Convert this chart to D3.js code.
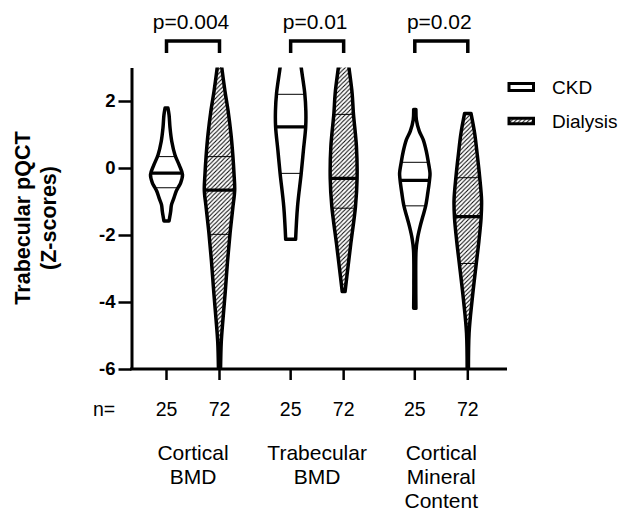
<!DOCTYPE html>
<html><head><meta charset="utf-8">
<script src="https://cdn.jsdelivr.net/npm/d3@7"></script>
<style>body{margin:0;background:#fff;} svg{display:block;font-family:"Liberation Sans",Arial,sans-serif;}</style>
</head><body><svg id="c" width="630" height="516"></svg>
<script>
// ---- data ----
const categories = ["Cortical BMD", "Trabecular BMD", "Cortical Mineral Content"];
const categoryLines = [["Cortical", "BMD"], ["Trabecular", "BMD"], ["Cortical", "Mineral", "Content"]];
const groups = ["CKD", "Dialysis"];
const nCounts = [25, 72];
const pValues = ["p=0.004", "p=0.01", "p=0.02"];
const yTicks = [-6, -4, -2, 0, 2];
const yTitle = ["Trabecular pQCT", "(Z-scores)"];

// density profiles [z-score, relative density], one per category
const densityCKD = [
  [[1.79,0.09],[1.58,0.16],[1.2,0.22],[0.79,0.33],[0.39,0.53],[0.09,0.79],[-0.2,1.0],[-0.45,0.88],[-0.59,0.72],[-0.7,0.6],[-0.9,0.46],[-1.1,0.31],[-1.3,0.26],[-1.58,0.16]],
  [[3.3,0.59],[3.0,0.66],[2.24,0.88],[1.7,0.95],[1.23,0.94],[0.54,0.8],[-0.16,0.66],[-1.15,0.43],[-2.13,0.31]],
  [[1.75,0.07],[1.43,0.1],[1.1,0.28],[0.84,0.53],[0.5,0.72],[0.19,0.84],[-0.16,0.95],[-0.36,0.92],[-0.75,0.81],[-1.13,0.68],[-1.45,0.5],[-1.75,0.33],[-2.1,0.17],[-2.45,0.08],[-3.5,0.06],[-4.19,0.07]]
];
const densityDialysis = [
  [[3.2,0.09],[2.93,0.16],[2.3,0.34],[1.73,0.53],[1.0,0.72],[0.34,0.84],[-0.2,0.91],[-0.66,0.95],[-1.2,0.83],[-1.95,0.66],[-2.8,0.5],[-3.7,0.36],[-4.5,0.22],[-5.2,0.11],[-6.2,0.06]],
  [[3.3,0.25],[3.0,0.33],[2.23,0.53],[1.63,0.61],[0.64,0.8],[-0.31,0.84],[-1.15,0.74],[-2.25,0.45],[-3.24,0.2],[-3.69,0.09]],
  [[1.63,0.2],[1.03,0.43],[0.4,0.59],[-0.26,0.74],[-0.96,0.86],[-1.5,0.83],[-2.2,0.69],[-2.85,0.53],[-3.94,0.27],[-4.93,0.08],[-6.2,0.04]]
];
// [Q1, median, Q3]
const quartilesCKD = [[-0.59,-0.15,0.34],[-0.16,1.23,2.2],[-1.13,-0.37,0.17]];
const quartilesDialysis = [[-1.98,-0.66,0.34],[-1.2,-0.31,1.6],[-2.85,-1.45,-0.29]];

// ---- layout ----
const svg = d3.select("#c");
const y = d3.scaleLinear().domain([-6, 3]).range([369, 67.5]);
const xg = d3.scalePoint().domain(categories).range([193, 441.3]);
const xi = d3.scalePoint().domain(groups).range([-26.5, 26.5]);
const w = d3.scaleLinear().domain([0, 1]).range([0, 16]);
const axisX0 = 131.5, axisX1 = 507;

const defs = svg.append("defs");
const hs = 4.3;
defs.append("pattern").attr("id", "hatch").attr("patternUnits", "userSpaceOnUse")
  .attr("width", hs).attr("height", hs)
  .call(p => {
    p.append("rect").attr("width", hs).attr("height", hs).attr("fill", "#fff");
    p.append("path").attr("d", `M0,${hs} L${hs},0 M${-hs/2},${hs/2} L${hs/2},${-hs/2} M${hs/2},${1.5*hs} L${1.5*hs},${hs/2}`)
      .attr("stroke", "#000").attr("stroke-width", 1);
  });
defs.append("clipPath").attr("id", "plotclip").append("rect")
  .attr("x", axisX0).attr("y", y(3)).attr("width", 630 - axisX0).attr("height", y(-6) - y(3));

function halfAt(prof, v) {
  for (let i = 0; i < prof.length - 1; i++) {
    const a = prof[i], b = prof[i + 1];
    if (v <= a[0] && v >= b[0]) {
      const t = (a[0] - v) / (a[0] - b[0]);
      return w(a[1] + t * (b[1] - a[1]));
    }
  }
  return 0;
}

const vg = svg.append("g").attr("clip-path", "url(#plotclip)");
const series = [
  { g: "CKD", dens: densityCKD, q: quartilesCKD, fill: "#fff" },
  { g: "Dialysis", dens: densityDialysis, q: quartilesDialysis, fill: "url(#hatch)" }
];
series.forEach(s => {
  categories.forEach((c, ci) => {
    const cx = xg(c) + xi(s.g);
    const prof = s.dens[ci];
    const area = d3.area().curve(d3.curveCatmullRom.alpha(0.5))
      .y(d => y(d[0])).x0(d => cx - w(d[1])).x1(d => cx + w(d[1]));
    vg.append("path").attr("d", area(prof)).attr("fill", s.fill)
      .attr("stroke", "#000").attr("stroke-width", 3.5).attr("stroke-linejoin", "round");
    s.q[ci].forEach((qv, qi) => {
      const hw = halfAt(prof, qv);
      vg.append("line").attr("x1", cx - hw).attr("x2", cx + hw).attr("y1", y(qv)).attr("y2", y(qv))
        .attr("stroke", "#000").attr("stroke-width", qi === 1 ? 3.2 : 1);
    });
  });
});

// y axis
const ya = svg.append("g").attr("transform", `translate(${axisX0},0)`)
  .call(d3.axisLeft(y).tickValues(yTicks).tickSize(13).tickSizeOuter(0).tickPadding(3).tickFormat(d => String(d)));
ya.select(".domain").attr("stroke", "#000").attr("stroke-width", 3);
ya.selectAll(".tick line").attr("stroke", "#000").attr("stroke-width", 2.5);
ya.selectAll(".tick text").attr("font-size", 18.5).attr("font-weight", "bold").attr("fill", "#000")
  .attr("font-family", '"Liberation Sans",Arial,sans-serif');

// x axis
svg.append("line").attr("x1", axisX0 - 1.5).attr("x2", axisX1).attr("y1", y(-6)).attr("y2", y(-6))
  .attr("stroke", "#000").attr("stroke-width", 3);
categories.forEach((c, ci) => {
  groups.forEach((g, gi) => {
    const cx = xg(c) + xi(g);
    svg.append("line").attr("x1", cx).attr("x2", cx).attr("y1", y(-6)).attr("y2", y(-6) + 11)
      .attr("stroke", "#000").attr("stroke-width", 2.5);
    svg.append("text").attr("x", cx).attr("y", 416).attr("text-anchor", "middle")
      .attr("font-size", 19.5).text(nCounts[gi]);
  });
  const t = svg.append("text").attr("text-anchor", "middle").attr("font-size", 21);
  categoryLines[ci].forEach((ln, li) => {
    t.append("tspan").attr("x", xg(c)).attr("y", 459.5 + li * 24.3).text(ln);
  });
  // bracket
  const xa = xg(c) + xi(groups[0]), xb = xg(c) + xi(groups[1]);
  svg.append("path").attr("d", `M${xa},53 L${xa},41 L${xb},41 L${xb},53`)
    .attr("fill", "none").attr("stroke", "#000").attr("stroke-width", 3.5);
  svg.append("text").attr("x", xg(c) - 2).attr("y", 29).attr("text-anchor", "middle")
    .attr("font-size", 21).text(pValues[ci]);
});
svg.append("text").attr("x", 93).attr("y", 416).attr("font-size", 19.5).text("n=");

// y title
const yt = svg.append("text").attr("transform", `translate(0,218) rotate(-90)`)
  .attr("text-anchor", "middle").attr("font-size", 21.5).attr("font-weight", "bold");
yTitle.forEach((ln, li) => yt.append("tspan").attr("x", 0).attr("y", 30 + li * 26).text(ln));

// legend
const leg = [{ g: "CKD", fill: "#fff", yc: 87, h: 7 }, { g: "Dialysis", fill: "url(#hatch)", yc: 121, h: 5.5 }];
leg.forEach(l => {
  svg.append("rect").attr("x", 509).attr("y", l.yc - l.h / 2).attr("width", 24.5).attr("height", l.h)
    .attr("fill", l.fill).attr("stroke", "#000").attr("stroke-width", 3);
  svg.append("text").attr("x", 552).attr("y", l.yc + 7).attr("font-size", 19).text(l.g);
});
</script></body></html>
